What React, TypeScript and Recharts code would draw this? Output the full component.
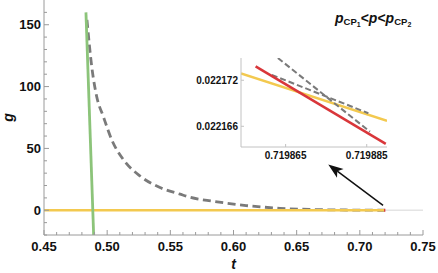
import { Line, LineChart, ReferenceLine, XAxis, YAxis } from 'recharts';

// main plot: g(t)
const T_TICKS = [0.45, 0.46, 0.47, 0.48, 0.49, 0.5, 0.51, 0.52, 0.53, 0.54, 0.55, 0.56, 0.57, 0.58, 0.59, 0.6, 0.61, 0.62, 0.63, 0.64, 0.65, 0.66, 0.67, 0.68, 0.69, 0.7, 0.71, 0.72, 0.73, 0.74, 0.75];
const T_MAJOR = [0.45, 0.5, 0.55, 0.6, 0.65, 0.7, 0.75];
const G_TICKS = [-20, -10, 0, 10, 20, 30, 40, 50, 60, 70, 80, 90, 100, 110, 120, 130, 140, 150, 160];
const G_MAJOR = [0, 50, 100, 150];

const GREEN_T = [0.4832, 0.4893];
const GREEN_G = [160, -20];

const DASH_T = [0.484, 0.4878, 0.4917, 0.4969, 0.5036, 0.5128, 0.526, 0.5418, 0.5577, 0.5656, 0.584, 0.61, 0.6368, 0.6632, 0.689, 0.7195];
const DASH_G = [154, 116, 92, 76, 57, 41, 27.7, 18.4, 13, 10.5, 7.3, 3.8, 1.6, 0.6, 0.2, 0];

const YELLOW_T = [0.45, 0.7195];
const YELLOW_G = [0, 0];
const PALE_T = [0.7195, 0.75];
const PALE_G = [0, 0];
const RED_T = [0.7192, 0.7202];
const RED_G = [0, 0];

const ARROW_T = [0.7184, 0.675];
const ARROW_G = [4, 37];

// inset (zoom around the crossing)
const IN_T_TICKS = [0.719865, 0.719885];
const IN_G_TICKS = [0.022166, 0.022172];
const IN_YELLOW_T = [0.719854, 0.71989];
const IN_YELLOW_G = [0.0221729, 0.0221667];
const IN_RED_T = [0.7198576, 0.7198897];
const IN_RED_G = [0.0221738, 0.0221637];
const IN_DASH_A_T = [0.7198631, 0.7198858];
const IN_DASH_A_G = [0.0221749, 0.0221653];
const IN_DASH_B_T = [0.7198616, 0.7198854];
const IN_DASH_B_G = [0.0221727, 0.0221677];

const COLORS = { green: '#8cc47a', dash: '#7a7a7a', yellow: '#f3c94f', red: '#d9363a', pale: '#e4e4e4', frame: '#9a9a9a', inset: '#c2c2c2', text: '#111' };
const FONT = '"Liberation Sans", Arial, sans-serif';

const pts = (ts: number[], gs: number[]) => ts.map((t, i) => ({ t, g: gs[i] }));

function BottomTick(props: any) {
  const { x, y, payload } = props;
  const major = T_MAJOR.includes(payload.value);
  return (
    <g>
      <line x1={x} x2={x} y1={y} y2={y - (major ? 5 : 3)} stroke={COLORS.frame} />
      {major && (
        <text x={x} y={y + 15.5} textAnchor="middle" fontSize={13} fontWeight="bold" fontFamily={FONT} fill={COLORS.text}>
          {payload.value.toFixed(2)}
        </text>
      )}
    </g>
  );
}

function TopTick(props: any) {
  const { x, y, payload } = props;
  const major = T_MAJOR.includes(payload.value);
  return <line x1={x} x2={x} y1={y} y2={y + (major ? 5 : 3)} stroke={COLORS.frame} />;
}

function LeftTick(props: any) {
  const { x, y, payload } = props;
  const major = G_MAJOR.includes(payload.value);
  return (
    <g>
      <line x1={x} x2={x + (major ? 5 : 3)} y1={y} y2={y} stroke={COLORS.frame} />
      {major && (
        <text x={x - 3} y={y + 4.6} textAnchor="end" fontSize={13} fontWeight="bold" fontFamily={FONT} fill={COLORS.text}>
          {payload.value}
        </text>
      )}
    </g>
  );
}

function RightTick(props: any) {
  const { x, y, payload } = props;
  const major = G_MAJOR.includes(payload.value);
  return <line x1={x} x2={x - (major ? 5 : 3)} y1={y} y2={y} stroke={COLORS.frame} />;
}

function InsetBottomTick(props: any) {
  const { x, y, payload } = props;
  return (
    <g>
      <line x1={x} x2={x} y1={y} y2={y - 3} stroke={COLORS.inset} />
      <text x={x} y={y + 12} textAnchor="middle" fontSize={10} fontWeight="bold" fontFamily={FONT} fill={COLORS.text}>
        {payload.value.toFixed(6)}
      </text>
    </g>
  );
}

function InsetLeftTick(props: any) {
  const { x, y, payload } = props;
  return (
    <g>
      <line x1={x} x2={x + 3} y1={y} y2={y} stroke={COLORS.inset} />
      <text x={x - 3} y={y + 3.6} textAnchor="end" fontSize={10} fontWeight="bold" fontFamily={FONT} fill={COLORS.text}>
        {payload.value.toFixed(6)}
      </text>
    </g>
  );
}

function Arrow(props: any) {
  const { x1, y1, x2, y2 } = props;
  const a = Math.atan2(y2 - y1, x2 - x1);
  const c = Math.cos(a);
  const s = Math.sin(a);
  const L = 15;
  const W = 5.5;
  const bx = x2 - L * c;
  const by = y2 - L * s;
  const nx = x2 - L * 0.75 * c;
  const ny = y2 - L * 0.75 * s;
  const head = `${x2},${y2} ${bx - W * s},${by + W * c} ${nx},${ny} ${bx + W * s},${by - W * c}`;
  return (
    <g>
      <line x1={x1} y1={y1} x2={nx} y2={ny} stroke="#111" strokeWidth={1.5} />
      <polygon points={head} fill="#111" />
    </g>
  );
}

function Inset() {
  return (
    <div style={{ position: 'absolute', left: 181, top: 55 }}>
      <LineChart width={210} height={112} margin={{ top: 3, right: 4, bottom: 0, left: 0 }}>
        <XAxis dataKey="t" type="number" domain={[0.719854, 0.71989]} allowDataOverflow ticks={IN_T_TICKS} interval={0} height={20} tickSize={0} tickMargin={0} tickLine={false} tick={<InsetBottomTick />} axisLine={{ stroke: COLORS.inset }} />
        <YAxis dataKey="g" type="number" domain={[0.0221633, 0.0221749]} allowDataOverflow ticks={IN_G_TICKS} interval={0} width={60} tickSize={0} tickMargin={0} tickLine={false} tick={<InsetLeftTick />} axisLine={{ stroke: COLORS.inset }} />
        <Line data={pts(IN_YELLOW_T, IN_YELLOW_G)} dataKey="g" stroke={COLORS.yellow} strokeWidth={2.5} dot={false} isAnimationActive={false} />
        <Line data={pts(IN_DASH_A_T, IN_DASH_A_G)} dataKey="g" stroke={COLORS.dash} strokeWidth={2} strokeDasharray="6 3" dot={false} isAnimationActive={false} />
        <Line data={pts(IN_DASH_B_T, IN_DASH_B_G)} dataKey="g" stroke={COLORS.dash} strokeWidth={2} strokeDasharray="6 3" dot={false} isAnimationActive={false} />
        <Line data={pts(IN_RED_T, IN_RED_G)} dataKey="g" stroke={COLORS.red} strokeWidth={2.5} dot={false} isAnimationActive={false} />
      </LineChart>
    </div>
  );
}

export default function App() {
  return (
    <div style={{ position: 'relative', width: 438, height: 273, background: '#fff' }}>
      <style>{'body{margin:0}'}</style>
      <LineChart width={438} height={273} margin={{ top: 0, right: 15, bottom: 0, left: 0 }}>
        <XAxis dataKey="t" type="number" domain={[0.45, 0.75]} allowDataOverflow ticks={T_TICKS} interval={0} height={38} tickSize={0} tickMargin={0} tickLine={false} tick={<BottomTick />} axisLine={{ stroke: COLORS.frame }}
          label={{ content: (p: any) => <text x={p.viewBox.x + p.viewBox.width / 2} y={269} textAnchor="middle" fontSize={14} fontWeight="bold" fontStyle="italic" fontFamily={FONT} fill={COLORS.text}>t</text> }} />
        <XAxis xAxisId="top" orientation="top" dataKey="t" type="number" domain={[0.45, 0.75]} allowDataOverflow ticks={T_TICKS} interval={0} height={0} tickSize={0} tickMargin={0} tickLine={false} tick={<TopTick />} axisLine={{ stroke: COLORS.frame }} />
        <YAxis dataKey="g" type="number" domain={[-20, 170]} allowDataOverflow ticks={G_TICKS} interval={0} width={44} tickSize={0} tickMargin={0} tickLine={false} tick={<LeftTick />} axisLine={{ stroke: COLORS.frame }}
          label={{ content: (p: any) => { const cy = p.viewBox.y + p.viewBox.height / 2; return <text x={12.5} y={cy} transform={`rotate(-90 12.5 ${cy})`} textAnchor="middle" fontSize={14} fontWeight="bold" fontStyle="italic" fontFamily={FONT} fill={COLORS.text}>g</text>; } }} />
        <YAxis yAxisId="right" orientation="right" type="number" domain={[-20, 170]} allowDataOverflow ticks={G_TICKS} interval={0} width={0} tickSize={0} tickMargin={0} tickLine={false} tick={<RightTick />} axisLine={{ stroke: COLORS.frame }} />
        <Line data={pts(PALE_T, PALE_G)} dataKey="g" stroke={COLORS.pale} strokeWidth={1.5} dot={false} isAnimationActive={false} />
        <Line data={pts(DASH_T, DASH_G)} type="monotone" dataKey="g" stroke={COLORS.dash} strokeWidth={2.8} strokeDasharray="8 4.5" dot={false} isAnimationActive={false} />
        <Line data={pts(YELLOW_T, YELLOW_G)} dataKey="g" stroke={COLORS.yellow} strokeWidth={2.5} dot={false} isAnimationActive={false} />
        <Line data={pts(GREEN_T, GREEN_G)} dataKey="g" stroke={COLORS.green} strokeWidth={2.8} dot={false} isAnimationActive={false} />
        <Line data={pts(RED_T, RED_G)} dataKey="g" stroke={COLORS.red} strokeWidth={3} dot={false} isAnimationActive={false} />
        <ReferenceLine segment={[{ x: ARROW_T[0], y: ARROW_G[0] }, { x: ARROW_T[1], y: ARROW_G[1] }]} shape={(p: any) => <Arrow {...p} />} />
      </LineChart>
      <Inset />
      <svg width={438} height={273} style={{ position: 'absolute', left: 0, top: 0, pointerEvents: 'none' }}>
        <text x={335} y={23} fontSize={14} fontWeight="bold" fontFamily={FONT} fill={COLORS.text}>
          <tspan fontStyle="italic">p</tspan>
          <tspan fontSize={9.5} dy={2}>CP</tspan>
          <tspan fontSize={7} dy={1.5}>1</tspan>
          <tspan dy={-3.5}>&lt;</tspan>
          <tspan fontStyle="italic">p</tspan>
          <tspan>&lt;</tspan>
          <tspan fontStyle="italic">p</tspan>
          <tspan fontSize={9.5} dy={2}>CP</tspan>
          <tspan fontSize={7} dy={1.5}>2</tspan>
        </text>
      </svg>
    </div>
  );
}
